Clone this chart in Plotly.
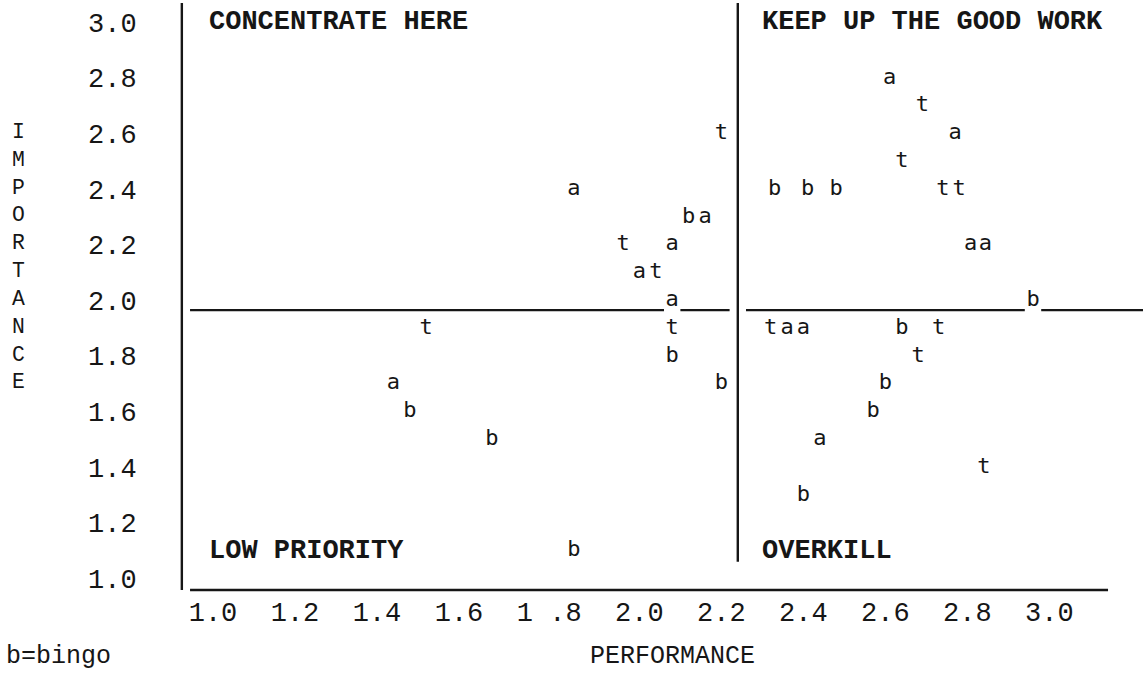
import plotly.graph_objects as go

# ---------------- data ----------------
# series "a"
a_perf = [1.88, 2.20, 2.12, 2.04, 2.12, 1.44, 2.65, 2.81, 2.848, 2.884, 2.40, 2.44, 2.48]
a_imp  = [2.4,  2.3,  2.2,  2.1,  2.0,  1.7,  2.8,  2.6,  2.2,   2.2,   1.9,  1.9,  1.5]
# series "t"
t_perf = [2.24, 2.00, 2.08, 2.12, 1.52, 2.73, 2.68, 2.78, 2.82, 2.36, 2.77, 2.72, 2.88]
t_imp  = [2.6,  2.2,  2.1,  1.9,  1.9,  2.7,  2.5,  2.4,  2.4,  1.9,  1.9,  1.8,  1.4]
# series "b" (b = bingo)
b_perf = [2.16, 2.12, 2.24, 1.48, 1.68, 1.88, 2.37, 2.45, 2.52, 3.00, 2.68, 2.64, 2.61, 2.44]
b_imp  = [2.3,  1.8,  1.7,  1.6,  1.5,  1.1,  2.4,  2.4,  2.4,  2.0,  1.9,  1.7,  1.6,  1.3]

x_tick_vals = [1.0, 1.2, 1.4, 1.6, 1.8, 2.0, 2.2, 2.4, 2.6, 2.8, 3.0]
x_tick_text = ["1.0", "1.2", "1.4", "1.6", "1 .8", "2.0", "2.2", "2.4", "2.6", "2.8", "3.0"]
y_tick_vals = [1.0, 1.2, 1.4, 1.6, 1.8, 2.0, 2.2, 2.4, 2.6, 2.8, 3.0]
y_tick_text = ["1.0", "1.2", "1.4", "1.6", "1.8", "2.0", "2.2", "2.4", "2.6", "2.8", "3.0"]

mean_perf = 2.28     # vertical divider
mean_imp = 1.965     # horizontal divider (underscore line)

quadrants = [
    ("CONCENTRATE HERE", 0.985, 3.0),
    ("KEEP UP THE GOOD WORK", 2.334, 3.0),
    ("LOW PRIORITY", 0.985, 1.1),
    ("OVERKILL", 2.334, 1.1),
]

# ---------------- styling / layout ----------------
W, H = 1143, 674
FONT = "Liberation Mono"
MARK_FONT = "DejaVu Sans Mono"
INK = "#161616"
COL = 0.04          # one typewriter column in performance units
X_RANGE = [0.4805, 3.2683]
Y_RANGE = [0.6561, 3.0806]
AXIS_Y = 0.958      # level of the typed x-axis line
AXIS_X = 0.924      # position of the typed y-axis line
TOP = 3.07
LW = 2.4

fig = go.Figure()
for xs, ys, ch in [(a_perf, a_imp, "a"), (t_perf, t_imp, "t"), (b_perf, b_imp, "b")]:
    fig.add_trace(go.Scatter(
        x=xs, y=ys, mode="text", text=[ch] * len(xs),
        textposition="middle center",
        textfont=dict(family=MARK_FONT, size=22, color=INK),
        hoverinfo="skip", showlegend=False,
    ))

# typewriter column offsets of the x tick labels (extra space in "1 .8")
x_tick_pos = []
shift = 0.0
for v, t in zip(x_tick_vals, x_tick_text):
    extra = (len(t) - 3) * COL
    x_tick_pos.append(v + shift + extra / 2)
    shift += extra

shapes = []
line = dict(color=INK, width=LW)
# typed axis lines
shapes.append(dict(type="line", xref="x", yref="y", x0=AXIS_X, x1=AXIS_X, y0=AXIS_Y, y1=TOP, line=line))
shapes.append(dict(type="line", xref="x", yref="y", x0=0.944, x1=3.183, y0=AXIS_Y, y1=AXIS_Y, line=line))
# vertical divider
shapes.append(dict(type="line", xref="x", yref="y", x0=mean_perf, x1=mean_perf, y0=1.06, y1=TOP, line=line))
# horizontal divider, broken where characters were typed over it
breaks = sorted([x for x, y in zip(a_perf + t_perf + b_perf, a_imp + t_imp + b_imp) if abs(y - 2.0) < 1e-9] + [mean_perf])
start = 0.944
half = COL / 2
for bx in breaks:
    shapes.append(dict(type="line", xref="x", yref="y", x0=start, x1=bx - half, y0=mean_imp, y1=mean_imp, line=line))
    start = bx + half
shapes.append(dict(type="line", xref="x", yref="y", x0=start, x1=X_RANGE[1], y0=mean_imp, y1=mean_imp, line=line))

annotations = []
for txt, qx, qy in quadrants:
    annotations.append(dict(x=qx, y=qy, xref="x", yref="y", text=f"<b>{txt}</b>", showarrow=False,
                            xanchor="left", yanchor="middle",
                            font=dict(family=FONT, size=27, color=INK)))
annotations.append(dict(x=18 / W, y=1 - 257 / H, xref="paper", yref="paper",
                        text="<br>".join("IMPORTANCE"), showarrow=False,
                        xanchor="center", yanchor="middle", align="center",
                        font=dict(family=FONT, size=21.4, color=INK)))
annotations.append(dict(x=672 / W, y=1 - 656 / H, xref="paper", yref="paper", text="PERFORMANCE",
                        showarrow=False, xanchor="center", yanchor="middle",
                        font=dict(family=FONT, size=25, color=INK)))
annotations.append(dict(x=4 / W, y=1 - 656 / H, xref="paper", yref="paper", text="b=bingo",
                        showarrow=False, xanchor="left", yanchor="middle",
                        font=dict(family=FONT, size=25, color=INK)))

fig.update_layout(
    width=W, height=H,
    margin=dict(l=0, r=0, t=0, b=0),
    paper_bgcolor="white", plot_bgcolor="white",
    shapes=shapes, annotations=annotations,
    xaxis=dict(range=X_RANGE, domain=[0, 1], anchor="free", position=1 - 593 / H,
               tickmode="array", tickvals=x_tick_pos, ticktext=x_tick_text,
               showgrid=False, zeroline=False, showline=False, ticks="",
               tickfont=dict(family=FONT, size=27, color=INK), automargin=False),
    yaxis=dict(range=Y_RANGE, domain=[0, 1], anchor="free", position=182 / W,
               tickmode="array", tickvals=y_tick_vals, ticktext=y_tick_text,
               showgrid=False, zeroline=False, showline=False,
               ticks="outside", ticklen=40, tickcolor="rgba(0,0,0,0)",
               tickfont=dict(family=FONT, size=27, color=INK), automargin=False),
)

fig.write_html("out.html", config={"displayModeBar": False},
               post_script="document.body.style.margin='0';document.body.style.overflow='hidden';")
